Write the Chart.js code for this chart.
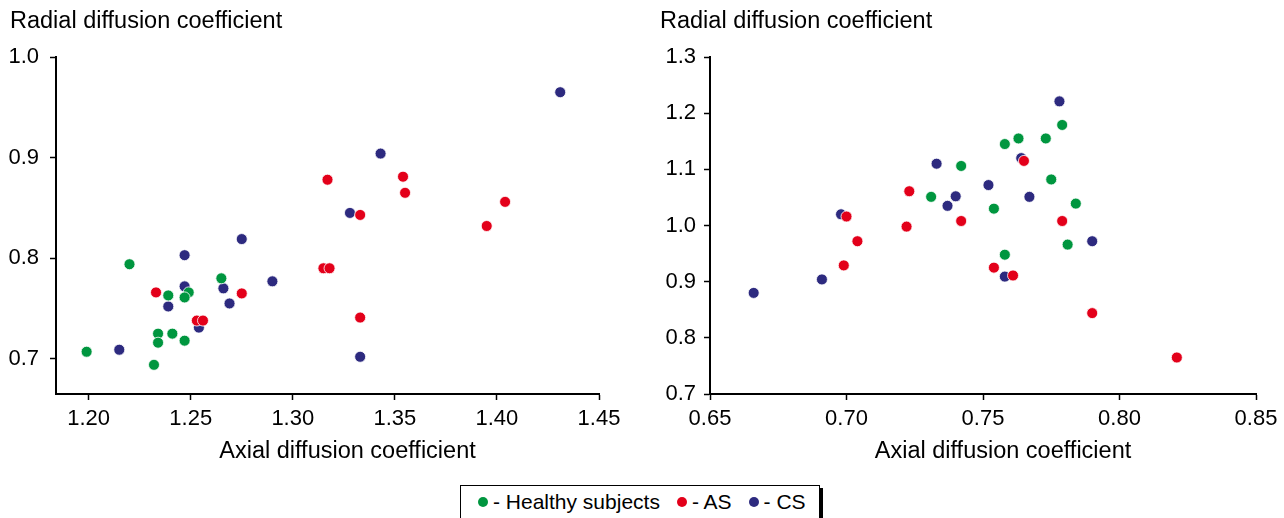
<!DOCTYPE html>
<html>
<head>
    <title>Axial vs radial diffusion coefficient</title>
    <script src="https://cdn.jsdelivr.net/npm/chart.js"></script>
    <style>
        body { margin: 0; background: #fff; width: 1284px; height: 518px; overflow: hidden; position: relative; font-family: "Liberation Sans", Arial, sans-serif; }
        .panel { position: absolute; top: 0; height: 470px; }
        #legend {
            position: absolute; left: 460px; top: 485px; width: 360px; height: 50px;
            border: 1.5px solid #000; box-shadow: 3px 3px 0 #000; box-sizing: border-box;
            display: flex; align-items: flex-start; padding: 4px 0 0 17px; font-size: 21px; color: #000;
        }
        #legend .item { display: flex; align-items: center; margin-right: 17px; white-space: nowrap; }
        #legend .dot { width: 10px; height: 10px; border-radius: 50%; margin-right: 5px; }
    </style>
</head>
<body>
    <div class="panel" style="left: 0; width: 650px;"><canvas id="leftChart"></canvas></div>
    <div class="panel" style="left: 650px; width: 634px;"><canvas id="rightChart"></canvas></div>
    <div id="legend"></div>

    <script>
        // groups (legend order) and their colours
        const groups = ['Healthy subjects', 'AS', 'CS'];
        const groupColors = ['#00963f', '#e3001a', '#2d2a7f'];

        // left panel: [axial, radial]
        const leftHealthy = [
            [1.220, 0.794], [1.265, 0.780], [1.239, 0.763], [1.249, 0.766], [1.247, 0.761],
            [1.234, 0.725], [1.241, 0.725], [1.234, 0.716], [1.247, 0.718], [1.199, 0.707],
            [1.232, 0.694]
        ];
        const leftAS = [
            [1.317, 0.878], [1.354, 0.881], [1.355, 0.865], [1.404, 0.856], [1.395, 0.832],
            [1.333, 0.843], [1.315, 0.790], [1.318, 0.790], [1.233, 0.766], [1.275, 0.765],
            [1.253, 0.738], [1.256, 0.738], [1.333, 0.741]
        ];
        const leftCS = [
            [1.431, 0.965], [1.343, 0.904], [1.328, 0.845], [1.275, 0.819], [1.247, 0.803],
            [1.290, 0.777], [1.247, 0.772], [1.266, 0.770], [1.269, 0.755], [1.239, 0.752],
            [1.254, 0.731], [1.215, 0.709], [1.333, 0.702]
        ];

        // right panel: [axial, radial]
        const rightHealthy = [
            [0.779, 1.179], [0.763, 1.155], [0.773, 1.155], [0.758, 1.145], [0.742, 1.106],
            [0.775, 1.082], [0.731, 1.051], [0.784, 1.039], [0.754, 1.030], [0.781, 0.966],
            [0.758, 0.948]
        ];
        const rightAS = [
            [0.765, 1.115], [0.723, 1.061], [0.700, 1.016], [0.742, 1.008], [0.779, 1.008],
            [0.722, 0.998], [0.704, 0.972], [0.699, 0.929], [0.754, 0.925], [0.761, 0.911],
            [0.790, 0.844], [0.821, 0.765]
        ];
        const rightCS = [
            [0.778, 1.221], [0.733, 1.110], [0.764, 1.120], [0.752, 1.072], [0.740, 1.052],
            [0.767, 1.051], [0.737, 1.035], [0.698, 1.020], [0.790, 0.972], [0.691, 0.904],
            [0.666, 0.880], [0.758, 0.909]
        ];

        // tick values
        const leftXTicks = [1.20, 1.25, 1.30, 1.35, 1.40, 1.45];
        const leftYTicks = [0.7, 0.8, 0.9, 1.0];
        const rightXTicks = [0.65, 0.70, 0.75, 0.80, 0.85];
        const rightYTicks = [0.7, 0.8, 0.9, 1.0, 1.1, 1.2, 1.3];

        const xTitle = 'Axial diffusion coefficient';
        const yTitle = 'Radial diffusion coefficient';

        const FONT = '"Liberation Sans", Arial, sans-serif';
        Chart.defaults.font.family = FONT;
        Chart.defaults.color = '#000';

        // axis captions: y caption sits horizontally above the axis, x caption a bit right of centre
        const captionPlugin = {
            id: 'caption',
            afterDraw(chart, args, opts) {
                const { ctx, chartArea } = chart;
                ctx.save();
                ctx.font = '23.5px ' + FONT;
                ctx.fillStyle = '#000';
                ctx.textBaseline = 'middle';
                ctx.textAlign = 'left';
                ctx.fillText(opts.yText, chartArea.left - opts.yIndent, chartArea.top - 35);
                ctx.textAlign = 'center';
                ctx.fillText(opts.xText, (chartArea.left + chartArea.right) / 2 + 20, chartArea.bottom + 58);
                ctx.restore();
            }
        };

        function toPoints(arr) {
            return arr.map(p => ({ x: p[0], y: p[1] }));
        }

        function axis(min, max, ticks, digits, pad, fit) {
            return {
                type: 'linear',
                min: min,
                max: max,
                afterBuildTicks: s => { s.ticks = ticks.map(v => ({ value: v })); },
                afterFit: fit,
                grid: { drawOnChartArea: false, drawTicks: true, tickLength: 6, tickColor: '#000', tickWidth: 1.5 },
                border: { display: true, color: '#000', width: 2 },
                ticks: {
                    font: { size: 22 },
                    color: '#000',
                    padding: pad,
                    maxRotation: 0,
                    callback: v => Number(v).toFixed(digits)
                }
            };
        }

        function createChart(id, healthy, as, cs, xr, yr, xTicks, yTicks, yWidth, yIndent, yPad, padRight) {
            const sets = [healthy, as, cs];
            const drawOrder = [2, 1, 3];   // AS on top, CS underneath
            new Chart(document.getElementById(id), {
                type: 'scatter',
                data: {
                    datasets: sets.map((d, i) => ({
                        label: groups[i],
                        data: toPoints(d),
                        backgroundColor: groupColors[i],
                        borderColor: '#fff',
                        borderWidth: 0.8,
                        pointRadius: 5.5,
                        pointHoverRadius: 5.5,
                        order: drawOrder[i]
                    }))
                },
                options: {
                    responsive: true,
                    maintainAspectRatio: false,
                    animation: false,
                    layout: { padding: { left: 0, top: 57, right: padRight, bottom: 0 } },
                    plugins: {
                        legend: { display: false },
                        tooltip: { enabled: false },
                        caption: { xText: xTitle, yText: yTitle, yIndent: yIndent }
                    },
                    scales: {
                        x: axis(xr[0], xr[1], xTicks, 2, 6, s => { s.height = 76; }),
                        y: axis(yr[0], yr[1], yTicks, 1, yPad, s => { s.width = yWidth; })
                    }
                },
                plugins: [captionPlugin]
            });
        }

        createChart('leftChart', leftHealthy, leftAS, leftCS, [1.184, 1.45], [0.665, 1.0], leftXTicks, leftYTicks, 56, 46, 11, 51);
        createChart('rightChart', rightHealthy, rightAS, rightCS, [0.65, 0.85], [0.7, 1.3], rightXTicks, rightYTicks, 60, 50, 8, 28);

        // legend box under the panels
        const legend = document.getElementById('legend');
        groups.forEach((g, i) => {
            const item = document.createElement('span');
            item.className = 'item';
            const dot = document.createElement('span');
            dot.className = 'dot';
            dot.style.background = groupColors[i];
            item.appendChild(dot);
            item.appendChild(document.createTextNode('- ' + g));
            legend.appendChild(item);
        });
    </script>
</body>
</html>
